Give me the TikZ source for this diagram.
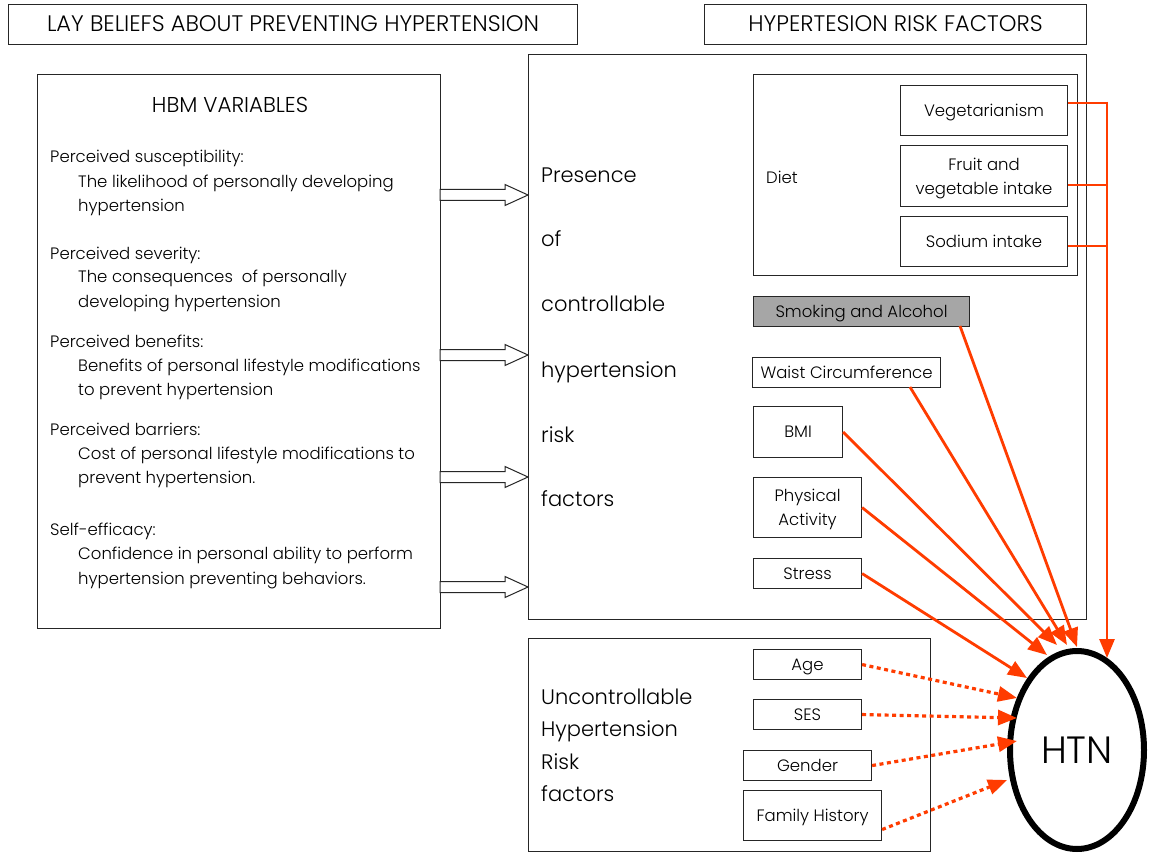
\documentclass[tikz,border=0pt]{standalone}
\usepackage{fontspec}
\setmainfont{Poppins}[UprightFont={* Light}]
\usetikzlibrary{arrows.meta,shapes.geometric}
\definecolor{hred}{RGB}{255,60,0}
\definecolor{hgray}{RGB}{166,166,166}
\tikzset{
  box/.style={draw=black!85,line width=1.1pt,anchor=north west,inner sep=0pt,align=center},
  body/.style={anchor=base west,inner sep=0pt,font=\fontsize{16.5}{19}\selectfont},
  big/.style={anchor=base west,inner sep=0pt,font=\fontsize{21}{24}\selectfont},
  small/.style={font=\fontsize{16.5}{24}\selectfont},
  oneline/.style={text height=13pt,text depth=1.5pt},
  twoline/.style={text depth=0pt},
  ttl/.style={font=\fontsize{22.5}{24}\selectfont},
  hollow/.style={draw=black!85,line width=1pt,fill=white},
  redarr/.style={draw=hred,line width=2.8pt,-{Triangle[length=19pt,width=15pt]}},
  redln/.style={draw=hred,line width=2.8pt},
  dotarr/.style={draw=hred,line width=3.2pt,dash pattern=on 4pt off 3.5pt,-{Triangle[length=19pt,width=15pt]}},
}
\newcommand{\hollowarr}[2]{%
  \draw[hollow] (#1,#2-5.5) -- (505,#2-5.5) -- (505,#2-10.5) -- (528,#2) -- (505,#2+10.5) -- (505,#2+5.5) -- (#1,#2+5.5) -- cycle;}
\begin{document}
\begin{tikzpicture}[x=1pt,y=-1pt]
\useasboundingbox[fill=white] (0,0) rectangle (1149,853);
% titles
\node[box,ttl,text height=17pt,text depth=3pt,minimum width=569pt,minimum height=40pt] (t1) at (8,4) {LAY BELIEFS ABOUT PREVENTING HYPERTENSION};
\node[box,ttl,text height=17pt,text depth=3pt,minimum width=382pt,minimum height=40pt] (t2) at (704,4) {HYPERTESION RISK FACTORS};
% HBM box
\node[box,minimum width=403pt,minimum height=554pt] (hbm) at (37,74) {};
\node[font=\fontsize{21.5}{24}\selectfont,inner sep=0pt] (hbmt) at (230,105) {HBM VARIABLES};
\node[body] (a1) at (50,163) {Perceived susceptibility:};
\node[body] (a2) at (78,188) {The likelihood of personally developing};
\node[body] (a3) at (78,212) {hypertension};
\node[body] (b1) at (50,259) {Perceived severity:};
\node[body] (b2) at (78,283) {The consequences~ of personally};
\node[body] (b3) at (78,307) {developing hypertension};
\node[body] (c1) at (50,347) {Perceived benefits:};
\node[body] (c2) at (78,371) {Benefits of personal lifestyle modifications};
\node[body] (c3) at (78,395) {to prevent hypertension};
\node[body] (d1) at (50,435) {Perceived barriers:};
\node[body] (d2) at (78,459) {Cost of personal lifestyle modifications to};
\node[body] (d3) at (78,483) {prevent hypertension.};
\node[body] (e1) at (50,535) {Self-efficacy:};
\node[body] (e2) at (78,559) {Confidence in personal ability to perform};
\node[body] (e3) at (78,584) {hypertension preventing behaviors.};
% controllable box
\node[box,minimum width=558pt,minimum height=565pt] (ctrl) at (528,54) {};
\node[big] (p1) at (541,183) {Presence};
\node[big] (p2) at (541,247) {of};
\node[big] (p3) at (541,312) {controllable};
\node[big] (p4) at (541,377) {hypertension};
\node[big] (p5) at (541,442) {risk};
\node[big] (p6) at (541,506) {factors};
% hollow arrows
\hollowarr{440}{195}
\hollowarr{440}{355}
\hollowarr{440}{477}
\hollowarr{440}{587}
% diet
\node[box,minimum width=324pt,minimum height=201pt] (diet) at (753,74) {};
\node[small,anchor=west,inner sep=0pt] (dietl) at (766,177) {Diet};
\node[box,small,oneline,minimum width=167pt,minimum height=50pt] (veg) at (900,85) {Vegetarianism};
\node[box,small,twoline,minimum width=167pt,minimum height=61pt] (fru) at (900,145) {Fruit and\\vegetable intake};
\node[box,small,oneline,minimum width=167pt,minimum height=50pt] (sod) at (900,216) {Sodium intake};
% others
\node[box,small,oneline,fill=hgray,minimum width=216pt,minimum height=30pt] (smk) at (753,296) {Smoking and Alcohol};
\node[box,small,oneline,minimum width=188pt,minimum height=30pt] (wst) at (752,357) {Waist Circumference};
\node[box,small,oneline,minimum width=89pt,minimum height=51pt] (bmi) at (753,406) {BMI};
\node[box,small,twoline,minimum width=108pt,minimum height=60pt] (pa) at (753,477) {Physical\\Activity};
\node[box,small,oneline,minimum width=108pt,minimum height=30pt] (str) at (753,558) {Stress};
% uncontrollable
\node[box,minimum width=402pt,minimum height=213pt] (unc) at (528,638) {};
\node[big] (u1) at (541,704) {Uncontrollable};
\node[big] (u2) at (541,736) {Hypertension};
\node[big] (u3) at (541,769) {Risk};
\node[big] (u4) at (541,801) {factors};
\node[box,small,oneline,minimum width=108pt,minimum height=30pt] (age) at (753,649) {Age};
\node[box,small,oneline,minimum width=108pt,minimum height=30pt] (ses) at (753,699) {SES};
\node[box,small,oneline,minimum width=128pt,minimum height=30pt] (gen) at (743,750) {Gender};
\node[box,small,oneline,minimum width=138pt,minimum height=50pt] (fam) at (743,790) {Family History};
% HTN
\node[ellipse,draw=black,line width=6pt,minimum width=134pt,minimum height=198pt,font=\fontsize{38}{40}\selectfont,inner sep=0pt] (htn) at (1077,750) {HTN};
% tips
\coordinate (bus1) at (1107,103);
\coordinate (bus2) at (1107,185);
\coordinate (bus3) at (1107,246);
\coordinate (vtip) at (1107,658);
\coordinate (tsmk) at (1077,647);
\coordinate (twst) at (1067,645);
\coordinate (tbmi) at (1057,645);
\coordinate (tpa) at (1047,655);
\coordinate (tstr) at (1027,678);
\coordinate (tage) at (1017,698);
\coordinate (tses) at (1017,718);
\coordinate (tgen) at (1017,741);
\coordinate (tfam) at (1007,780);
\coordinate (ssmk) at (960,326);
\coordinate (swst) at (910,387);
% red connectors
\draw[redln] (veg.east |- bus1) -- (bus1);
\draw[redln] (fru.east |- bus2) -- (bus2);
\draw[redln] (sod.east |- bus3) -- (bus3);
\draw[redarr] ([yshift=1.4pt]bus1) -- (vtip);
\draw[redarr] (ssmk) -- (tsmk);
\draw[redarr] (swst) -- (twst);
\draw[redarr] (bmi.east) -- (tbmi);
\draw[redarr] (pa.east) -- (tpa);
\draw[redarr] (str.east) -- (tstr);
\draw[dotarr] (age.east) -- (tage);
\draw[dotarr] (ses.east) -- (tses);
\draw[dotarr] (gen.east) -- (tgen);
\draw[dotarr] ([yshift=-14pt]fam.east) -- (tfam);
\end{tikzpicture}
\end{document}
